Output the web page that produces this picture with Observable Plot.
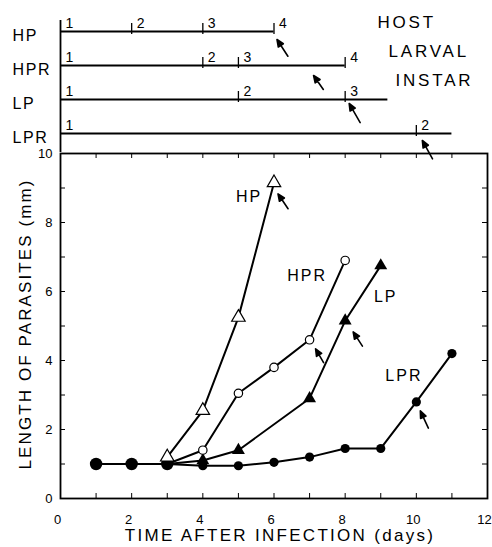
<!DOCTYPE html>
<html><head><meta charset="utf-8">
<script src="https://cdn.jsdelivr.net/npm/d3@7"></script>
<script src="https://cdn.jsdelivr.net/npm/@observablehq/plot@0.6"></script>
<style>
body{margin:0;background:#fff;}
#chart svg{display:block;}
</style></head><body><div id="chart"></div>
<script>
// ---- host larval instar panel ----
const instarRows = ["HP", "HPR", "LP", "LPR"];
const instarDays = [[0, 2, 4, 6], [0, 4, 5, 8], [0, 5, 8], [0, 10]];
const rowEnds = [6, 8, 9.2, 11];
const arrowDays = [6, 7, 8, 10];
const hostText = ["HOST", "LARVAL", "INSTAR"];

// ---- parasite length (mm) by day after infection ----
const sharedDays = [1, 2, 3], sharedLen = [1.0, 1.0, 1.0];
const hpDays = [3, 4, 5, 6], hpLen = [1.2, 2.55, 5.25, 9.15];
const hprDays = [4, 5, 6, 7, 8], hprLen = [1.4, 3.05, 3.8, 4.6, 6.9];
const lpDays = [4, 5, 7, 8, 9], lpLen = [1.1, 1.4, 2.9, 5.15, 6.75];
const lprDays = [4, 5, 6, 7, 8, 9, 10, 11], lprLen = [0.95, 0.95, 1.05, 1.2, 1.45, 1.45, 2.8, 4.2];
const xTicks = [0, 2, 4, 6, 8, 10, 12];
const yTicks = [0, 2, 4, 6, 8, 10];
const dayMinor = [1, 2, 3, 4, 5, 6, 7, 8, 9, 10, 11];
const lenMinor = [1, 2, 3, 4, 5, 6, 7, 8, 9];
const xTitle = "TIME AFTER INFECTION (days)";
const yTitle = "LENGTH OF PARASITES (mm)";

const font = "'Liberation Sans', Arial, Helvetica, sans-serif";
const W = 492, ML = 60, MR = 5;

// build tables
const zip = (days, vals) => days.map((d, i) => ({day: d, len: vals[i]}));
const shared = zip(sharedDays, sharedLen);
const series = {
  HP: zip(hpDays, hpLen),
  HPR: zip(hprDays, hprLen),
  LP: zip(lpDays, lpLen),
  LPR: zip(lprDays, lprLen)
};
const lineTable = [
  ...shared.map(d => ({...d, s: "shared"})),
  ...series.HP.map(d => ({...d, s: "HP"})),
  ...["HPR", "LP", "LPR"].flatMap(k => [shared[shared.length - 1], ...series[k]].map(d => ({...d, s: k})))
];
const instarTable = instarRows.flatMap((r, i) => instarDays[i].map((d, j) => ({row: r, day: d, instar: j + 1})));
const rowTable = instarRows.map((r, i) => ({row: r, end: rowEnds[i]}));
const arrowTable = instarRows.map((r, i) => ({row: r, day: arrowDays[i]}));

// per-series styling / annotation offsets (pixels)
const topArrowStyle = {
  HP: {dx: 3, dy: 8, len: 20, rot: -33},
  HPR: {dx: 4, dy: 10, len: 17, rot: -35},
  LP: {dx: 4, dy: 4, len: 22, rot: -30},
  LPR: {dx: 6, dy: 7, len: 21, rot: -29}
};
const mainArrowStyle = {
  HP: {dx: 4, dy: 11, len: 18, rot: -34},
  HPR: {dx: 6, dy: 9, len: 16, rot: -30},
  LP: {dx: 8, dy: 11, len: 17, rot: -33},
  LPR: {dx: 4, dy: 9, len: 19, rot: -25}
};
const labelStyle = {
  HP: {day: 6, dx: -25, dy: 14},
  HPR: {day: 8, dx: -38, dy: 15},
  LP: {day: 9, dx: 5, dy: 31},
  LPR: {day: 11, dx: -48, dy: 22}
};

// arrow with a small solid head
const solidArrow = {
  draw(context, l, r) {
    const w = r * 0.85, h = r * 2;
    context.moveTo(0, 0);
    context.lineTo(0, -l + h * 0.6);
    context.moveTo(0, -l);
    context.lineTo(-w, -l + h);
    context.lineTo(w, -l + h);
    context.closePath();
  }
};
const arrowOpts = {anchor: "end", strokeWidth: 1.6, r: 3.5, shape: solidArrow, fill: "black", stroke: "black"};

const topH = 152;
const topPlot = Plot.plot({
  width: W, height: topH, marginTop: 20, marginBottom: 0, marginLeft: ML, marginRight: MR,
  style: {fontFamily: font, fontSize: "14px", color: "#000", background: "white", overflow: "visible"},
  x: {domain: [0, 12], axis: null},
  y: {type: "band", domain: instarRows, range: [30, 134], paddingInner: 1, paddingOuter: 0, align: 0.5, axis: null},
  marks: [
    Plot.ruleX([0], {strokeWidth: 1.8}),
    Plot.ruleY(rowTable, {y: "row", x1: 0, x2: "end", strokeWidth: 2.2}),
    Plot.tickX(instarTable.filter(d => d.instar > 1), {x: "day", y: "row", insetTop: -8, insetBottom: -3, strokeWidth: 1.3}),
    Plot.text(instarTable, {x: "day", y: "row", text: "instar", dx: 5, dy: -4, lineAnchor: "bottom", textAnchor: "start", fontSize: 14}),
    Plot.text(instarRows, {x: 0, y: d => d, text: d => d, dx: -48, dy: 4, textAnchor: "start", fontSize: 16}),
    Plot.text([hostText[0]], {frameAnchor: "top-right", textAnchor: "start", lineAnchor: "middle", dx: -110, dy: 2, fontSize: 17}),
    Plot.text([hostText[1]], {frameAnchor: "top-right", textAnchor: "start", lineAnchor: "middle", dx: -99, dy: 31, fontSize: 17}),
    Plot.text([hostText[2]], {frameAnchor: "top-right", textAnchor: "start", lineAnchor: "middle", dx: -92, dy: 60, fontSize: 17}),
    ...instarRows.map(r => {
      const s = topArrowStyle[r];
      return Plot.vector(arrowTable.filter(d => d.row === r), {x: "day", y: "row", length: s.len, rotate: s.rot, dx: s.dx, dy: s.dy, ...arrowOpts});
    })
  ]
});

const mainH = 547 - topH, MT = 1, MB = 49;
const FH = mainH - MT - MB, FW = W - ML - MR;
const mainPlot = Plot.plot({
  width: W, height: mainH, marginTop: MT, marginBottom: MB, marginLeft: ML, marginRight: MR,
  style: {fontFamily: font, fontSize: "12px", color: "#000", background: "white", overflow: "visible"},
  x: {domain: [0, 12]},
  y: {domain: [0, 10]},
  marks: [
    Plot.frame({strokeWidth: 1.8}),
    Plot.tickX(dayMinor, {x: d => d, insetBottom: FH - 5}),
    Plot.tickX(dayMinor, {x: d => d, insetTop: FH - 5}),
    Plot.tickY(lenMinor, {y: d => d, insetLeft: FW - 5}),
    Plot.tickY(lenMinor, {y: d => d, insetRight: FW - 5}),
    Plot.axisX({ticks: xTicks, tickSize: 0, tickPadding: 16, label: null, fontSize: 13, dx: -3}),
    Plot.axisY({ticks: yTicks, tickSize: 0, tickPadding: 8, label: null, fontSize: 13}),
    Plot.text([xTitle], {frameAnchor: "bottom", textAnchor: "middle", lineAnchor: "middle", dx: 6, dy: 37, fontSize: 17}),
    Plot.text([yTitle], {frameAnchor: "left", textAnchor: "middle", rotate: -90, lineAnchor: "middle", dx: -35, dy: -2, fontSize: 17}),
    Plot.line(lineTable, {x: "day", y: "len", z: "s", strokeWidth: 2}),
    Plot.dot(shared, {x: "day", y: "len", r: 6.2, fill: "black"}),
    Plot.dot(series.LPR, {x: "day", y: "len", r: 4.6, fill: "black"}),
    Plot.dot(series.LP, {x: "day", y: "len", symbol: "triangle", r: 4.8, fill: "black"}),
    Plot.dot(series.HPR, {x: "day", y: "len", r: 4.2, fill: "white", stroke: "black", strokeWidth: 1.2}),
    Plot.dot(series.HP, {x: "day", y: "len", symbol: "triangle", r: 5, fill: "white", stroke: "black", strokeWidth: 1.2}),
    ...instarRows.map((r, i) => {
      const s = mainArrowStyle[r];
      return Plot.vector(series[r].filter(d => d.day === arrowDays[i]), {x: "day", y: "len", length: s.len, rotate: s.rot, dx: s.dx, dy: s.dy, ...arrowOpts});
    }),
    ...instarRows.map(r => {
      const s = labelStyle[r];
      return Plot.text(series[r].filter(d => d.day === s.day), {x: "day", y: "len", text: () => r, dx: s.dx, dy: s.dy, fontSize: 16});
    })
  ]
});

// letter spacing of the hand-lettered texts
const spacing = (svg, texts, px) => d3.select(svg).selectAll("text")
  .filter(function () { return texts.includes(this.textContent); })
  .style("letter-spacing", px);
spacing(topPlot, hostText, "2.8px");
spacing(topPlot, instarRows, "1.6px");
spacing(mainPlot, [xTitle], "2.3px");
spacing(mainPlot, [yTitle], "2.1px");
spacing(mainPlot, instarRows, "2px");

document.getElementById("chart").append(topPlot, mainPlot);
</script>
</body></html>
